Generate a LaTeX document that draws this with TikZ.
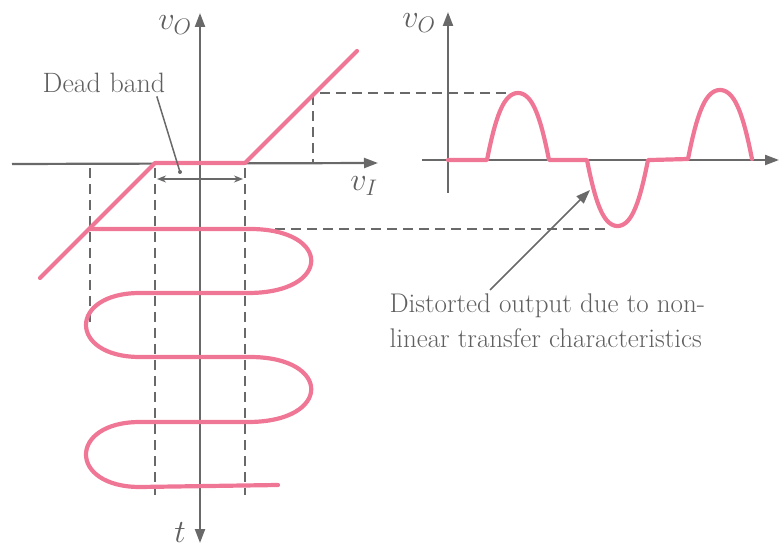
\documentclass[tikz,border=0pt]{standalone}
\usepackage{xcolor}
\usepackage{amsmath}
\usepackage{graphicx}
\usepackage{tikz}
\usetikzlibrary{arrows.meta}

\definecolor{curvepink}{RGB}{240,118,150}
\definecolor{axisgray}{RGB}{105,105,105}
\definecolor{labelgray}{RGB}{95,95,95}

\newcommand{\biglbl}[1]{\scalebox{1.3}{$#1$}}

\begin{document}
\begin{tikzpicture}[x=1pt,y=-1pt,
  >={Triangle[length=14pt,width=10pt]},
  axis/.style={line width=2.2pt,axisgray},
  guide/.style={line width=1.5pt,axisgray,dash pattern=on 10pt off 6pt},
  wave/.style={line width=4.2pt,curvepink,line join=round,line cap=round},
  lbl/.style={text=labelgray,font=\fontsize{27}{35}\selectfont},
  varlbl/.style={text=labelgray,font=\fontsize{24}{30}\selectfont,inner sep=1pt}]
  \useasboundingbox (0,0) rectangle (780,548);
  \tikzset{pointer/.style={line width=1.5pt,axisgray}}

  % Transfer characteristic axes
  \draw[axis,->] (12,164) -- (378,163);
  \draw[axis,<->] (200,543) -- (200,13);
  \node[varlbl] (vOleft) at (175,25) {\biglbl{v_O}};
  \node[varlbl] (vI) at (364,186) {\biglbl{v_I}};
  \node[varlbl,anchor=base] (tlabel) at (180,542) {\biglbl{t}};

  % Guide lines
  \draw[guide] (90,168) -- (90,322);
  \draw[guide] (155,168) -- (155,495);
  \draw[guide] (245,168) -- (245,495);
  \draw[guide] (313,95) -- (313,163);
  \draw[guide] (320,93) -- (520,93);
  \draw[guide] (275,229) -- (608,229);

  % Transfer curve with dead band
  \draw[wave] (40,278) -- (155,163) -- (245,163) -- (357,51);

  % Dead band marker
  \node[lbl,font=\fontsize{28}{35}\selectfont] (deadband) at (104,83) {Dead band};
  \coordinate (dbdot) at (180,172);
  \coordinate (dbleft) at (157,179);
  \coordinate (dbright) at (243,179);
  \draw[pointer] ([xshift=-12pt]deadband.south east) -- (dbdot);
  \fill[axisgray] (dbdot) circle (2pt);
  \draw[pointer,{Stealth[length=9pt,width=7pt]}-{Stealth[length=9pt,width=7pt]}] (dbleft) -- (dbright);

  % Input sine (time runs down)
  \draw[wave] (90,229) -- (250,229)
    .. controls (332,229) and (332,293) .. (248,293) -- (140,293)
    .. controls (68,293) and (68,357) .. (140,357) -- (250,357)
    .. controls (332,357) and (332,422) .. (248,422) -- (140,422)
    .. controls (68,422) and (68,487) .. (140,487) -- (278,485);

  % Output axes
  \draw[axis,->] (422,160) -- (779,160);
  \draw[axis,->] (448,193) -- (448,12);
  \node[varlbl] (vOright) at (419,23) {\biglbl{v_O}};

  % Distorted output
  \draw[wave] (448,160) -- (487,160)
    -- plot[domain=0:1,samples=40] ({487+62*\x},{160-67*sin(180*\x)*(1.5-0.5*sin(180*\x))})
    -- (587,160)
    -- plot[domain=0:1,samples=40] ({587+61*\x},{160+66*sin(180*\x)*(1.5-0.5*sin(180*\x))})
    -- (688,159)
    -- plot[domain=0:1,samples=40] ({688+64*\x},{159-69*sin(180*\x)*(1.5-0.5*sin(180*\x))});

  % Annotation
  \node[lbl,anchor=north west,align=left] (distorted) at (386,290)
    {Distorted output due to non-\\linear transfer characteristics};
  \coordinate (distip) at (590,190);
  \draw[pointer,->] ([xshift=104pt]distorted.north west) -- (distip);
\end{tikzpicture}
\end{document}
